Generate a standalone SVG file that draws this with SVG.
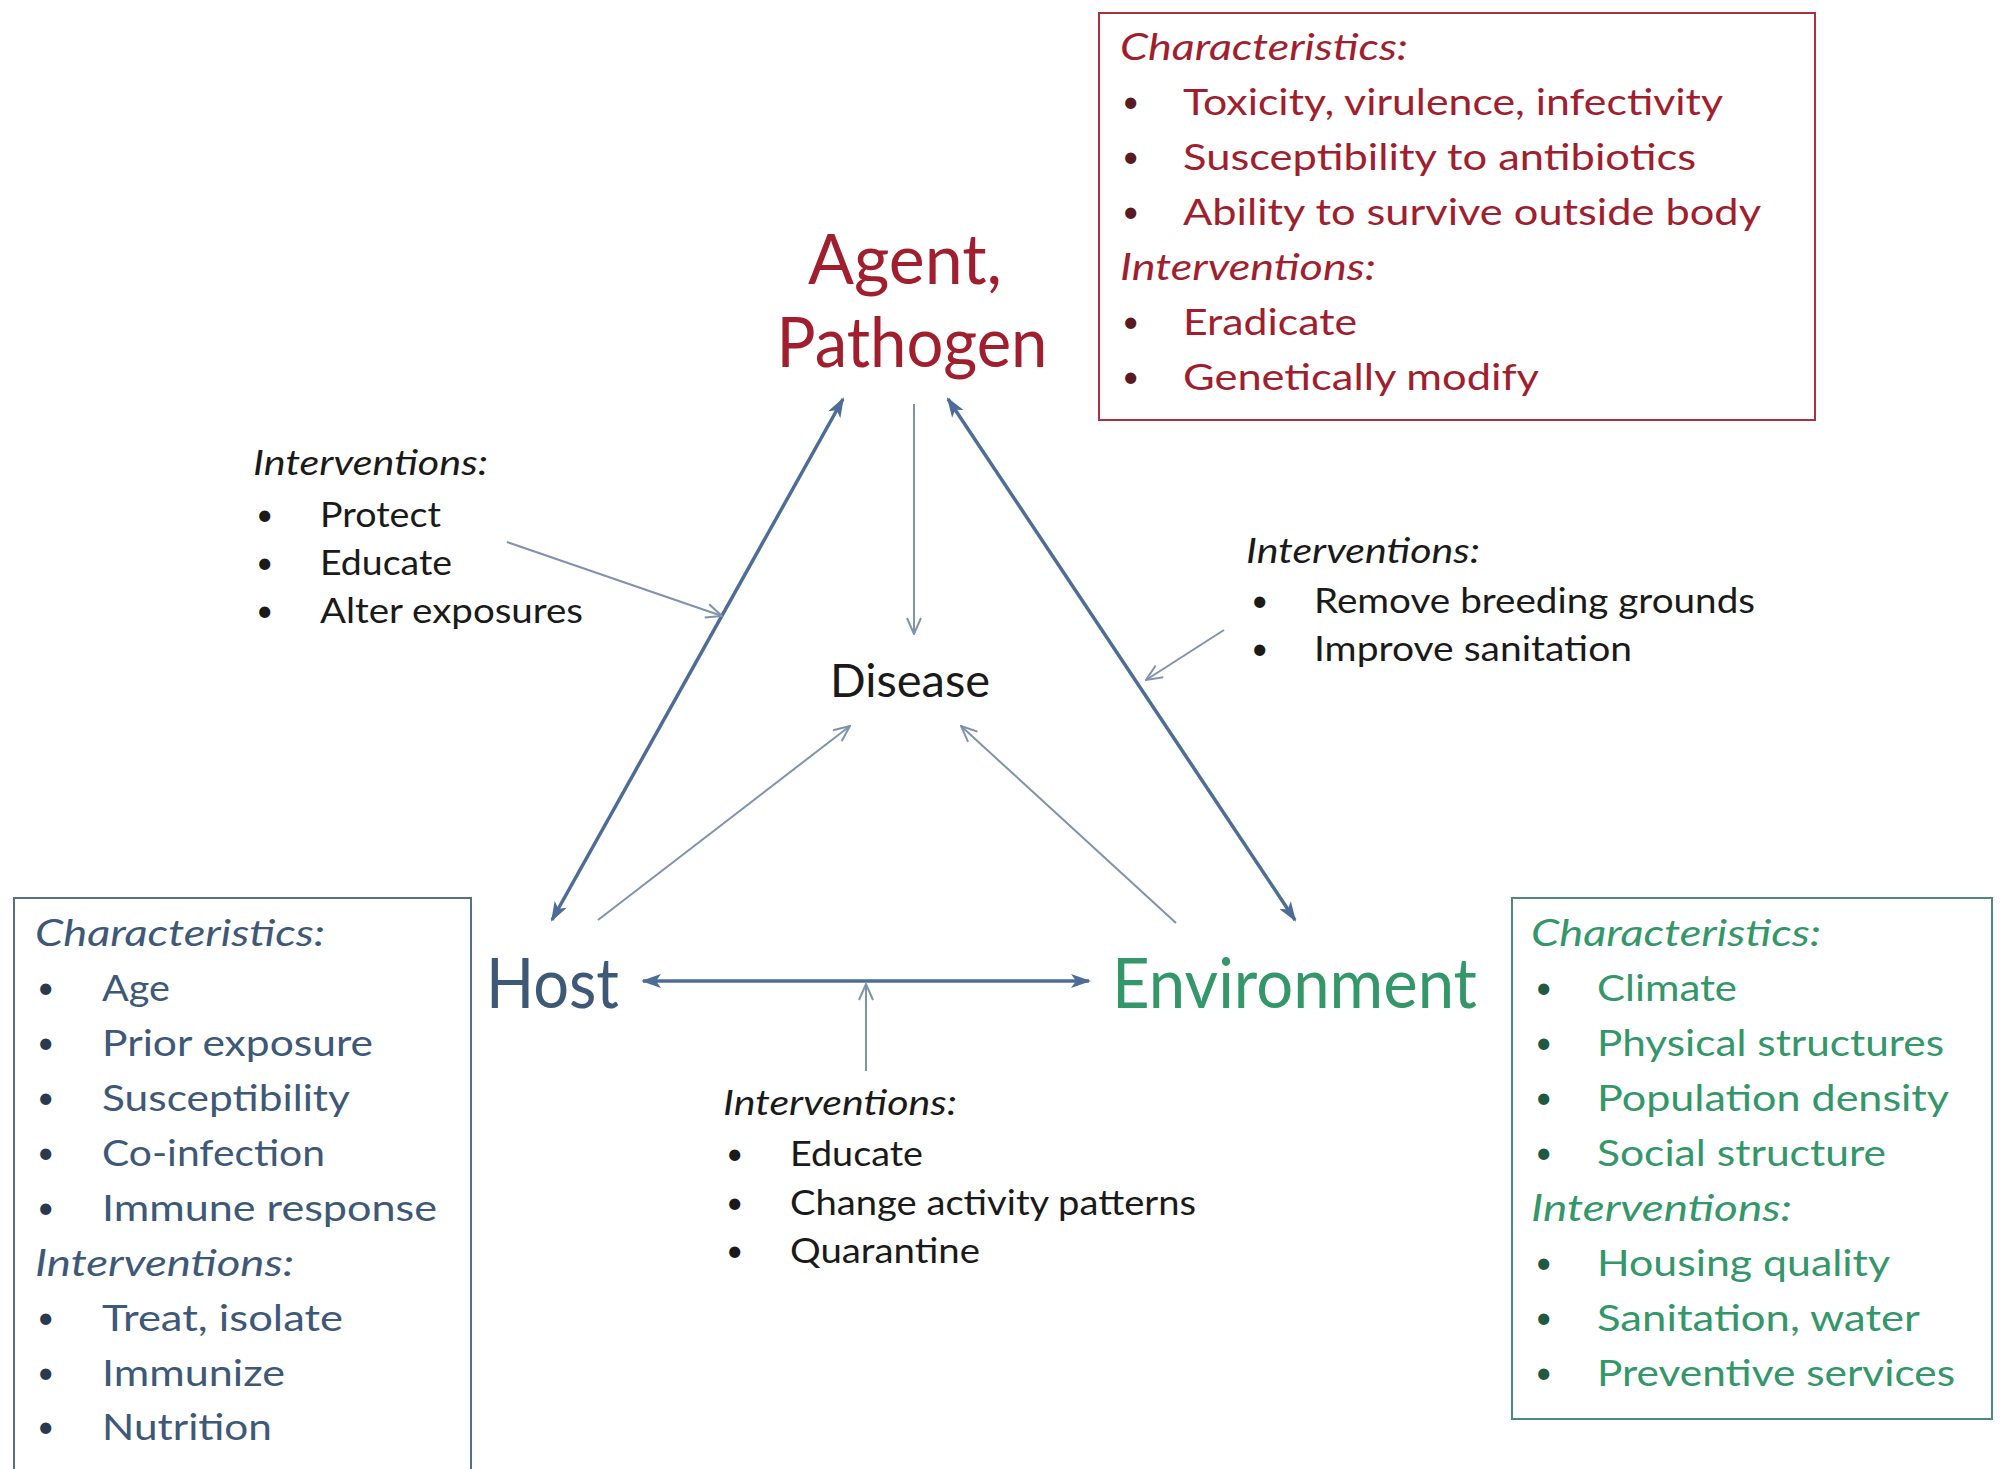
<svg xmlns="http://www.w3.org/2000/svg" width="2004" height="1469" viewBox="0 0 2004 1469">
<defs>
<style>
text{font-family:Lato,"Liberation Sans",sans-serif}
.it{font-style:italic}
.red{fill:#a11e2e}
.blu{fill:#3e5878}
.grn{fill:#33976a}
.blk{fill:#1a1a1a}
.lst{font-size:37px}
.sm{font-size:34px}
.big{font-size:70px}
.bul{font-size:30px}
.rb{fill:#5a1a22}
.bb{fill:#2a3a4e}
.gb{fill:#1f5a40}
.thick{stroke:#4d6d98;stroke-width:3.5;fill:none}
.thin{stroke:#7f93ad;stroke-width:2;fill:none}
</style>
<marker id="fh" viewBox="0 0 20 14" refX="18" refY="7" markerWidth="20" markerHeight="14" markerUnits="userSpaceOnUse" orient="auto-start-reverse">
<path d="M0,0 L20,7 L0,14 L5,7 Z" fill="#4d6d98"/>
</marker>
<marker id="oh" viewBox="0 0 18 16" refX="17" refY="8" markerWidth="18" markerHeight="16" markerUnits="userSpaceOnUse" orient="auto">
<path d="M1,1 L17,8 L1,15" fill="none" stroke="#7f93ad" stroke-width="2"/>
</marker>
</defs>
<rect width="2004" height="1469" fill="#ffffff"/>

<g id="connectors">
<line class="thick" x1="552" y1="920" x2="843" y2="399" marker-start="url(#fh)" marker-end="url(#fh)"/>
<line class="thick" x1="948" y1="399" x2="1295" y2="920" marker-start="url(#fh)" marker-end="url(#fh)"/>
<line class="thick" x1="643" y1="981" x2="1089" y2="981" marker-start="url(#fh)" marker-end="url(#fh)"/>
<line class="thin" x1="914" y1="404" x2="914" y2="634" marker-end="url(#oh)"/>
<line class="thin" x1="598" y1="920" x2="850" y2="726" marker-end="url(#oh)"/>
<line class="thin" x1="1176" y1="923" x2="961" y2="726" marker-end="url(#oh)"/>
<line class="thin" x1="507" y1="542" x2="722" y2="616" marker-end="url(#oh)"/>
<line class="thin" x1="1224" y1="630" x2="1146" y2="680" marker-end="url(#oh)"/>
<line class="thin" x1="866" y1="1071" x2="866" y2="984" marker-end="url(#oh)"/>
</g>

<g id="agent">
<text class="red big" x="905" y="284" text-anchor="middle" textLength="194" lengthAdjust="spacingAndGlyphs">Agent,</text>
<text class="red big" x="912" y="367" text-anchor="middle" textLength="271" lengthAdjust="spacingAndGlyphs">Pathogen</text>
</g>

<g id="agent-box">
<rect x="1099" y="13" width="716" height="407" fill="none" stroke="#a8323e" stroke-width="2"/>
<text class="red lst it" x="1120" y="60" textLength="288" lengthAdjust="spacingAndGlyphs">Characteristics:</text>
<text class="rb bul" x="1122" y="112">•</text>
<text class="red lst" x="1183" y="115" textLength="540" lengthAdjust="spacingAndGlyphs">Toxicity, virulence, infectivity</text>
<text class="rb bul" x="1122" y="167">•</text>
<text class="red lst" x="1183" y="170" textLength="513" lengthAdjust="spacingAndGlyphs">Susceptibility to antibiotics</text>
<text class="rb bul" x="1122" y="222">•</text>
<text class="red lst" x="1183" y="225" textLength="578" lengthAdjust="spacingAndGlyphs">Ability to survive outside body</text>
<text class="red lst it" x="1120" y="280" textLength="256" lengthAdjust="spacingAndGlyphs">Interventions:</text>
<text class="rb bul" x="1122" y="332">•</text>
<text class="red lst" x="1183" y="335" textLength="174" lengthAdjust="spacingAndGlyphs">Eradicate</text>
<text class="rb bul" x="1122" y="387">•</text>
<text class="red lst" x="1183" y="390" textLength="356" lengthAdjust="spacingAndGlyphs">Genetically modify</text>
</g>

<g id="disease">
<text class="blk" x="910" y="697" font-size="46" text-anchor="middle" textLength="160" lengthAdjust="spacingAndGlyphs">Disease</text>
</g>

<g id="host">
<text class="blu big" x="486" y="1008" textLength="133" lengthAdjust="spacingAndGlyphs">Host</text>
</g>

<g id="environment">
<text class="grn big" x="1112" y="1008" textLength="365" lengthAdjust="spacingAndGlyphs">Environment</text>
</g>

<g id="interventions-agent-host">
<text class="blk sm it" x="253" y="475" textLength="235" lengthAdjust="spacingAndGlyphs">Interventions:</text>
<text class="blk bul" x="256" y="525">•</text>
<text class="blk sm" x="320" y="527" textLength="121" lengthAdjust="spacingAndGlyphs">Protect</text>
<text class="blk bul" x="256" y="573">•</text>
<text class="blk sm" x="320" y="575" textLength="132" lengthAdjust="spacingAndGlyphs">Educate</text>
<text class="blk bul" x="256" y="621">•</text>
<text class="blk sm" x="320" y="623" textLength="263" lengthAdjust="spacingAndGlyphs">Alter exposures</text>
</g>

<g id="interventions-agent-env">
<text class="blk sm it" x="1246" y="563" textLength="234" lengthAdjust="spacingAndGlyphs">Interventions:</text>
<text class="blk bul" x="1251" y="611">•</text>
<text class="blk sm" x="1314" y="613" textLength="441" lengthAdjust="spacingAndGlyphs">Remove breeding grounds</text>
<text class="blk bul" x="1251" y="659">•</text>
<text class="blk sm" x="1314" y="661" textLength="318" lengthAdjust="spacingAndGlyphs">Improve sanitation</text>
</g>

<g id="interventions-host-env">
<text class="blk sm it" x="723" y="1115" textLength="234" lengthAdjust="spacingAndGlyphs">Interventions:</text>
<text class="blk bul" x="726" y="1164">•</text>
<text class="blk sm" x="790" y="1166" textLength="133" lengthAdjust="spacingAndGlyphs">Educate</text>
<text class="blk bul" x="726" y="1213">•</text>
<text class="blk sm" x="790" y="1215" textLength="406" lengthAdjust="spacingAndGlyphs">Change activity patterns</text>
<text class="blk bul" x="726" y="1261">•</text>
<text class="blk sm" x="790" y="1263" textLength="190" lengthAdjust="spacingAndGlyphs">Quarantine</text>
</g>

<g id="host-box">
<rect x="14" y="898" width="457" height="600" fill="none" stroke="#5a6f86" stroke-width="2"/>
<text class="blu lst it" x="35" y="946" textLength="290" lengthAdjust="spacingAndGlyphs">Characteristics:</text>
<text class="bb bul" x="37" y="998">•</text>
<text class="blu lst" x="102" y="1001" textLength="68" lengthAdjust="spacingAndGlyphs">Age</text>
<text class="bb bul" x="37" y="1053">•</text>
<text class="blu lst" x="102" y="1056" textLength="271" lengthAdjust="spacingAndGlyphs">Prior exposure</text>
<text class="bb bul" x="37" y="1108">•</text>
<text class="blu lst" x="102" y="1111" textLength="248" lengthAdjust="spacingAndGlyphs">Susceptibility</text>
<text class="bb bul" x="37" y="1163">•</text>
<text class="blu lst" x="102" y="1166" textLength="223" lengthAdjust="spacingAndGlyphs">Co-infection</text>
<text class="bb bul" x="37" y="1218">•</text>
<text class="blu lst" x="102" y="1221" textLength="335" lengthAdjust="spacingAndGlyphs">Immune response</text>
<text class="blu lst it" x="35" y="1276" textLength="259" lengthAdjust="spacingAndGlyphs">Interventions:</text>
<text class="bb bul" x="37" y="1328">•</text>
<text class="blu lst" x="102" y="1331" textLength="241" lengthAdjust="spacingAndGlyphs">Treat, isolate</text>
<text class="bb bul" x="37" y="1383">•</text>
<text class="blu lst" x="102" y="1386" textLength="183" lengthAdjust="spacingAndGlyphs">Immunize</text>
<text class="bb bul" x="37" y="1437">•</text>
<text class="blu lst" x="102" y="1440" textLength="170" lengthAdjust="spacingAndGlyphs">Nutrition</text>
</g>

<g id="environment-box">
<rect x="1512" y="898" width="480" height="521" fill="none" stroke="#4f8a72" stroke-width="2"/>
<text class="grn lst it" x="1531" y="946" textLength="290" lengthAdjust="spacingAndGlyphs">Characteristics:</text>
<text class="gb bul" x="1535" y="998">•</text>
<text class="grn lst" x="1597" y="1001" textLength="140" lengthAdjust="spacingAndGlyphs">Climate</text>
<text class="gb bul" x="1535" y="1053">•</text>
<text class="grn lst" x="1597" y="1056" textLength="347" lengthAdjust="spacingAndGlyphs">Physical structures</text>
<text class="gb bul" x="1535" y="1108">•</text>
<text class="grn lst" x="1597" y="1111" textLength="352" lengthAdjust="spacingAndGlyphs">Population density</text>
<text class="gb bul" x="1535" y="1163">•</text>
<text class="grn lst" x="1597" y="1166" textLength="289" lengthAdjust="spacingAndGlyphs">Social structure</text>
<text class="grn lst it" x="1531" y="1221" textLength="261" lengthAdjust="spacingAndGlyphs">Interventions:</text>
<text class="gb bul" x="1535" y="1273">•</text>
<text class="grn lst" x="1597" y="1276" textLength="293" lengthAdjust="spacingAndGlyphs">Housing quality</text>
<text class="gb bul" x="1535" y="1328">•</text>
<text class="grn lst" x="1597" y="1331" textLength="323" lengthAdjust="spacingAndGlyphs">Sanitation, water</text>
<text class="gb bul" x="1535" y="1383">•</text>
<text class="grn lst" x="1597" y="1386" textLength="358" lengthAdjust="spacingAndGlyphs">Preventive services</text>
</g>
</svg>
